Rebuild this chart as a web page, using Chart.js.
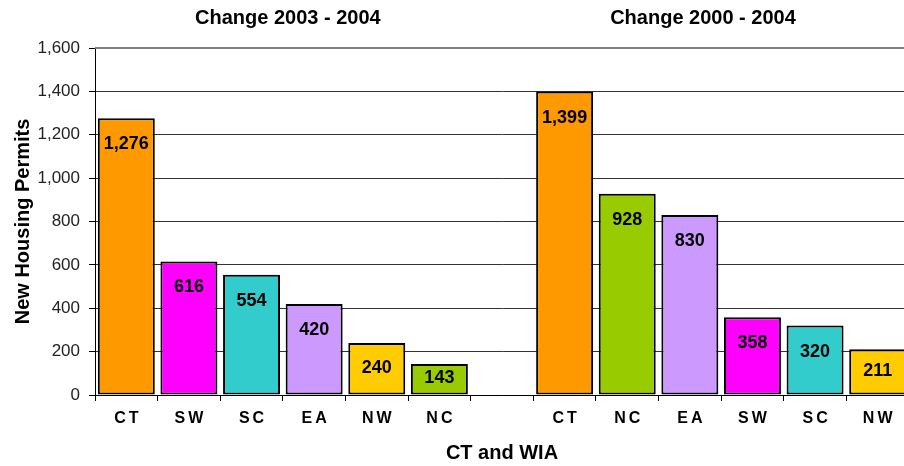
<!DOCTYPE html>
<html>
<head>
<meta charset="utf-8">
<script src="https://cdn.jsdelivr.net/npm/chart.js@4/dist/chart.umd.min.js"></script>
<style>
  html, body { margin: 0; padding: 0; background: #fff; overflow: hidden; }
  #wrap { width: 904px; height: 466px; overflow: hidden; }
</style>
</head>
<body>
<div id="wrap"><canvas id="c" width="912" height="466"></canvas></div>
<script>
// regions, left group is 2003-2004, right group is 2000-2004 (blank slot between)
var regions = ['CT', 'SW', 'SC', 'EA', 'NW', 'NC', '', 'CT', 'NC', 'EA', 'SW', 'SC', 'NW'];
var permits = [1276, 616, 554, 420, 240, 143, null, 1399, 928, 830, 358, 320, 211];
var groupTitles = ['Change 2003 - 2004', 'Change 2000 - 2004'];
var yTicks = [0, 200, 400, 600, 800, 1000, 1200, 1400, 1600];

var regionColor = {
    CT: '#FF9900',
    SW: '#FF00FF',
    SC: '#33CCCC',
    EA: '#CC99FF',
    NW: '#FFCC00',
    NC: '#99CC00'
};

var FONT = "'Liberation Sans', Arial, sans-serif";
Chart.defaults.font.family = FONT;
Chart.defaults.color = '#000';

var extras = {
    id: 'extras',
    afterDatasetsDraw: function(chart) {
        var ctx = chart.ctx;
        var meta = chart.getDatasetMeta(0);
        ctx.save();
        ctx.font = 'bold 18px ' + FONT;
        ctx.fillStyle = '#000';
        ctx.textAlign = 'center';
        ctx.textBaseline = 'middle';
        for (var i = 0; i < meta.data.length; i++) {
            var v = permits[i];
            if (v === null) continue;
            var bar = meta.data[i];
            // label sits near the top, short bars get it pulled up to the middle
            var off = Math.min(26, (bar.base - bar.y) / 2 - 1);
            ctx.fillText(v.toLocaleString('en-US'), bar.x, bar.y + off);
        }
        ctx.restore();
    },
    afterDraw: function(chart) {
        var ctx = chart.ctx;
        var xs = chart.scales.x;
        var area = chart.chartArea;
        ctx.save();
        // plot area top border
        ctx.strokeStyle = '#808080';
        ctx.lineWidth = 2;
        ctx.beginPath();
        ctx.moveTo(area.left, area.top);
        ctx.lineTo(area.right, area.top);
        ctx.stroke();

        // category labels, spaced out
        ctx.font = 'bold 16px ' + FONT;
        ctx.fillStyle = '#000';
        ctx.textAlign = 'center';
        ctx.textBaseline = 'middle';
        ctx.letterSpacing = '3px';
        for (var i = 0; i < regions.length; i++) {
            ctx.fillText(regions[i], xs.getPixelForValue(i) + 1.5, area.bottom + 24);
        }
        ctx.letterSpacing = '0px';

        // group titles
        ctx.font = 'bold 20px ' + FONT;
        ctx.fillText(groupTitles[0], xs.getPixelForValue(2.58), 18);
        ctx.fillText(groupTitles[1], xs.getPixelForValue(9.21), 18);
        ctx.restore();
    }
};

new Chart(document.getElementById('c'), {
    type: 'bar',
    data: {
        labels: regions,
        datasets: [{
            data: permits,
            backgroundColor: regions.map(function(r) { return regionColor[r] || '#fff'; }),
            borderColor: '#000',
            borderWidth: 2,
            borderSkipped: false,
            barPercentage: 0.91,
            categoryPercentage: 1
        }]
    },
    options: {
        responsive: false,
        animation: false,
        layout: { padding: { top: 48, right: 3, left: 0, bottom: 0 } },
        plugins: {
            legend: { display: false },
            tooltip: { enabled: false }
        },
        scales: {
            x: {
                offset: true,
                grid: {
                    offset: true,
                    drawOnChartArea: false,
                    drawTicks: true,
                    tickLength: 6,
                    color: '#000',
                    tickColor: '#000'
                },
                border: { color: '#000', width: 1 },
                ticks: { display: false },
                title: {
                    display: true,
                    text: 'CT and WIA',
                    font: { size: 20, weight: 'bold' },
                    color: '#000',
                    padding: { top: 0, bottom: 1 }
                },
                afterFit: function(scale) { scale.height = 71; }
            },
            y: {
                min: 0,
                max: 1600,
                afterBuildTicks: function(scale) {
                    scale.ticks = yTicks.map(function(v) { return { value: v }; });
                },
                ticks: {
                    padding: 9,
                    font: { size: 17 },
                    color: '#222',
                    callback: function(v) { return v.toLocaleString('en-US'); }
                },
                grid: {
                    color: '#333',
                    lineWidth: 1,
                    tickLength: 6,
                    tickColor: '#000'
                },
                border: { color: '#000', width: 1 },
                title: {
                    display: true,
                    text: 'New Housing Permits',
                    font: { size: 20, weight: 'bold' },
                    color: '#000',
                    padding: { top: 11, bottom: 0 }
                },
                afterFit: function(scale) { scale.width = 95; }
            }
        }
    },
    plugins: [extras]
});
</script>
</body>
</html>
